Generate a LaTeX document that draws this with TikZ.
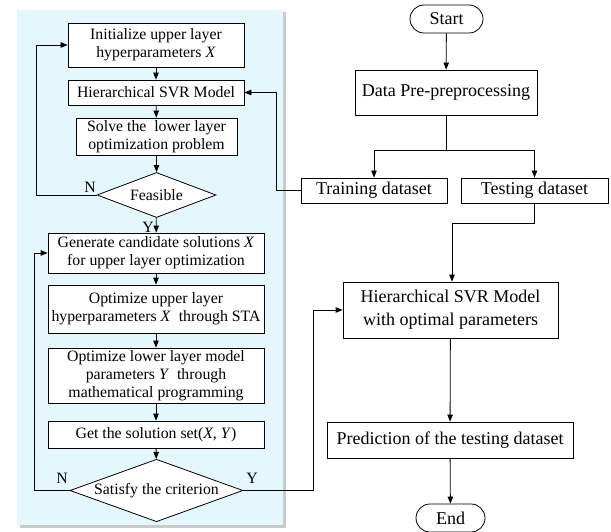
\documentclass[tikz,border=0pt]{standalone}
\usepackage{fontspec}
\setmainfont{Liberation Serif}
\usetikzlibrary{arrows.meta,shapes.geometric,shadows}
\definecolor{panelblue}{RGB}{228,247,253}

\begin{document}
\begin{tikzpicture}[x=1pt,y=-1pt,
	line width=0.8pt,
	every node/.style={inner sep=0pt},
	box/.style={draw, fill=white, align=center, font=\fontsize{15.8}{18}\selectfont},
	bigbox/.style={draw, fill=white, align=center, font=\fontsize{18}{23}\selectfont},
	term/.style={bigbox, rounded corners=14pt},
	decision/.style={diamond, draw, fill=white, aspect=2.6, font=\fontsize{15.8}{18}\selectfont},
	lbl/.style={font=\fontsize{15.8}{18}\selectfont},
	flow/.style={-{Triangle[length=7pt,width=5.5pt]}}]
	\useasboundingbox (0,0) rectangle (611,532);
	% shaded panel of the bilevel optimization
	\fill [panelblue, drop shadow={shadow xshift=2.5pt, shadow yshift=-2.5pt, fill=black!35, opacity=0.6}] (17,10) rectangle (283,525);
	% left column
	\node [box, minimum width=176, minimum height=44] (init) at (156,45) {Initialize upper layer\\hyperparameters \textit{X}};
	\node [box, minimum width=176, minimum height=25] (hsvr) at (156,92.5) {Hierarchical SVR Model};
	\node [box, minimum width=161, minimum height=37] (solve) at (156.5,136.5) {Solve the~ lower layer\\optimization problem};
	\node [decision, minimum width=119, minimum height=45] (feas) at (156.5,195) {Feasible};
	\node [box, minimum width=216, minimum height=40] (gen) at (156,253) {Generate candidate solutions \textit{X}\\for upper layer optimization};
	\node [box, minimum width=216, minimum height=48] (optu) at (156,309) {Optimize upper layer\\hyperparameters \textit{X}~ through STA};
	\node [box, minimum width=216, minimum height=55] (optl) at (156,375.5) {Optimize lower layer model\\parameters \textit{Y}~ through\\mathematical programming};
	\node [box, minimum width=216, minimum height=27] (getsol) at (156,434.5) {Get the solution set(\textit{X}, \textit{Y})};
	\node [decision, minimum width=173, minimum height=53] (satis) at (156.5,490.5) {Satisfy the criterion};
	\node [lbl] (feasN) at (90,187) {N};
	\node [lbl] (feasY) at (148,227) {Y};
	\node [lbl] (satisN) at (62,478) {N};
	\node [lbl] (satisY) at (252,478) {Y};
	% right column
	\node [term, minimum width=73, minimum height=28] (start) at (446.5,19) {Start};
	\node [bigbox, minimum width=182, minimum height=45] (prep) at (446,92.5) {Data Pre-preprocessing};
	\node [bigbox, minimum width=146, minimum height=25] (train) at (374,190.5) {Training dataset};
	\node [bigbox, minimum width=147, minimum height=25] (test) at (534.5,190.5) {Testing dataset};
	\node [bigbox, minimum width=215, minimum height=56] (model) at (450.5,310) {Hierarchical SVR Model\\with optimal parameters};
	\node [bigbox, minimum width=246, minimum height=36] (pred) at (450,440) {Prediction of the testing dataset};
	\node [term, minimum width=69, minimum height=28] (end) at (450.5,518) {End};
	\coordinate (split) at (446,150);
	% connectors
	\draw [flow] (init) -- (hsvr);
	\draw [flow] (hsvr) -- (solve);
	\draw [flow] (solve) -- (feas);
	\draw [flow] (feas) -- (gen);
	\draw [flow] (gen) -- (optu);
	\draw [flow] (optu) -- (optl);
	\draw [flow] (optl) -- (getsol);
	\draw [flow] (getsol) -- (satis);
	\draw [flow] (feas.west) -- ++(-60,0) |- (init.west);
	\draw [flow] (satis.west) -- ++(-35,0) |- (gen.west);
	\draw [flow] (satis.east) -- ++(70,0) |- (model.west);
	\draw [flow] (start) -- (prep);
	\draw (prep) -- (split);
	\draw [flow] (split) -| (train.north);
	\draw [flow] (split) -| (test.north);
	\draw [flow] (train.west) -- ++(-24,0) |- (hsvr.east);
	\draw [flow] (test.south) -- ++(0,20) -| ([xshift=1.5pt]model.north);
	\draw [flow] (model) -- (pred);
	\draw [flow] (pred) -- (end);
\end{tikzpicture}
\end{document}
